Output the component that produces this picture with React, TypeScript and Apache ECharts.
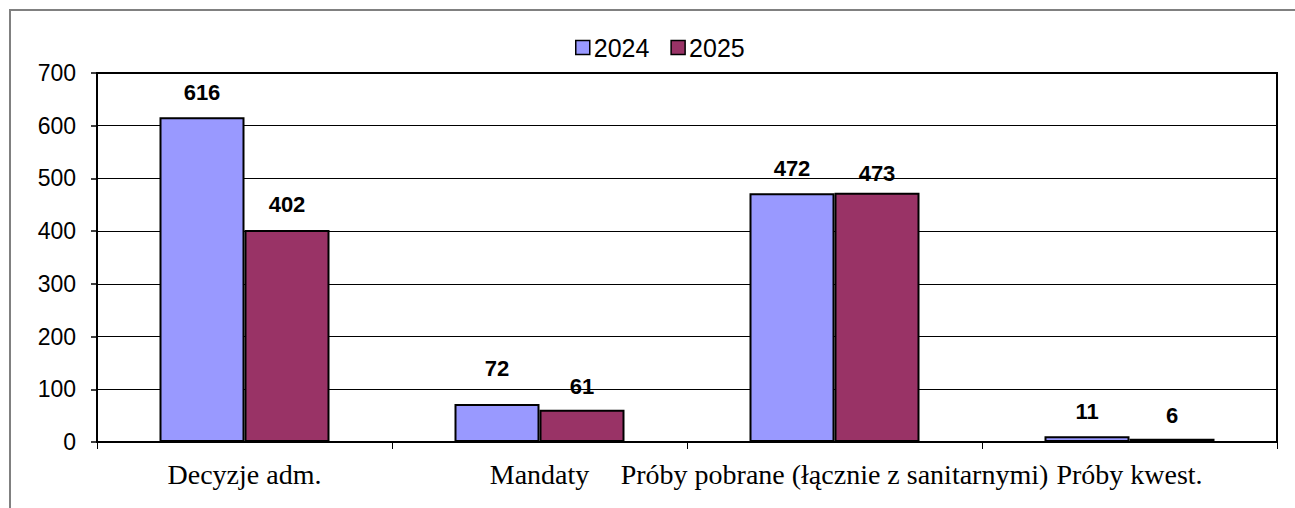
import React, { useEffect, useRef } from "react";
import * as echarts from "echarts";

const categories = [
  "Decyzje adm.",
  "Mandaty",
  "Próby pobrane (łącznie z sanitarnymi)",
  "Próby kwest.",
];
const seriesNames = ["2024", "2025"];
const values2024 = [616, 72, 472, 11];
const values2025 = [402, 61, 473, 6];
const yTicks = [0, 100, 200, 300, 400, 500, 600, 700];

// per-label vertical shifts (style only)
const shift2024 = [-2, -13, -2, -2];
const shift2025 = [-3, 0, 4, 0];

const colors = ["#9999FF", "#993366"];

export default function App() {
  const ref = useRef<HTMLDivElement>(null);
  useEffect(() => {
    if (!ref.current) return;
    const chart = echarts.init(ref.current, undefined, { renderer: "svg" });
    const mk = (vals: number[], shifts: number[]) =>
      vals.map((v, i) => ({ value: v, label: { offset: [0, shifts[i]] } }));
    const labelStyle = {
      show: true,
      position: "top" as const,
      distance: 12,
      fontFamily: "Liberation Sans, Arial, sans-serif",
      fontWeight: "bold" as const,
      fontSize: 22,
      color: "#000",
    };
    chart.setOption({
      animation: false,
      backgroundColor: "#fff",
      graphic: [
        {
          type: "rect",
          shape: { x: 10, y: 10, width: 1320, height: 540 },
          style: { fill: "none", stroke: "#808080", lineWidth: 2 },
          silent: true,
          z: 100,
        },
      ],
      legend: {
        left: 570,
        top: 30,
        itemWidth: 14,
        itemHeight: 14,
        itemGap: 21,
        icon: "rect",
        itemStyle: { borderColor: "#000", borderWidth: 1.5 },
        textStyle: {
          fontFamily: "Liberation Sans, Arial, sans-serif",
          fontSize: 25,
          color: "#000",
          padding: [0, 0, 0, -1],
        },
        data: seriesNames,
      },
      grid: {
        left: 97,
        right: 18,
        top: 73,
        bottom: 66,
        show: true,
        borderColor: "#000",
        borderWidth: 2,
        containLabel: false,
      },
      xAxis: {
        type: "category",
        data: categories,
        axisLine: { show: true, lineStyle: { color: "#000", width: 2 } },
        axisTick: { show: true, length: 7, lineStyle: { color: "#000", width: 1 } },
        axisLabel: {
          interval: 0,
          margin: 18,
          fontFamily: "Liberation Serif, Times New Roman, serif",
          fontSize: 28,
          color: "#000",
        },
      },
      yAxis: {
        type: "value",
        min: 0,
        max: 700,
        interval: 100,
        axisLine: { show: true, lineStyle: { color: "#000", width: 2 } },
        axisTick: { show: true, length: 6, lineStyle: { color: "#000", width: 1.5 } },
        splitLine: { show: true, lineStyle: { color: "#000", width: 1 } },
        axisLabel: {
          margin: 21,
          fontFamily: "Liberation Sans, Arial, sans-serif",
          fontSize: 23,
          color: "#000",
          formatter: (v: number) => (yTicks.includes(v) ? String(v) : ""),
        },
      },
      series: [
        {
          name: seriesNames[0],
          type: "bar",
          barWidth: 85,
          barGap: "0%",
          data: mk(values2024, shift2024),
          itemStyle: { color: colors[0], borderColor: "#000", borderWidth: 2 },
          label: labelStyle,
        },
        {
          name: seriesNames[1],
          type: "bar",
          barWidth: 85,
          barGap: "0%",
          data: mk(values2025, shift2025),
          itemStyle: { color: colors[1], borderColor: "#000", borderWidth: 2 },
          label: labelStyle,
        },
      ],
    });
    return () => chart.dispose();
  }, []);
  return (
    <div
      ref={ref}
      style={{ position: "absolute", left: 0, top: 0, width: 1295, height: 508 }}
    />
  );
}
